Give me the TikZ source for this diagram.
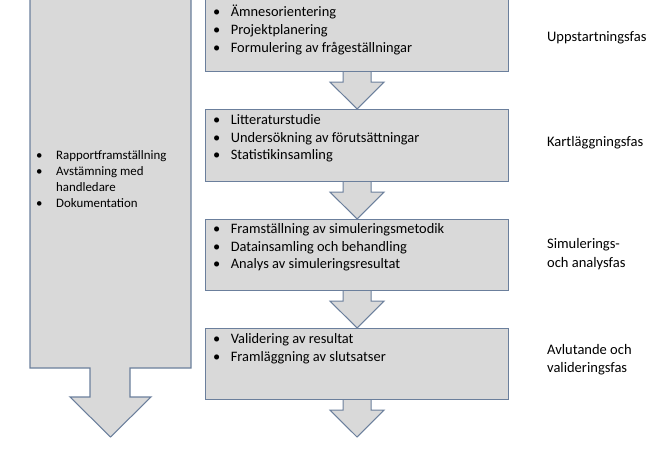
\documentclass[tikz,border=0pt]{standalone}
\usepackage{fontspec}
\setmainfont{Carlito}
\usepackage{xcolor}
\definecolor{boxfill}{HTML}{D9D9D9}
\definecolor{boxline}{HTML}{6B7F9C}
\newcommand{\bl}{\makebox[15pt][l]{\textbullet}}
\newcommand{\bls}{\makebox[17pt][l]{\textbullet}}
\tikzset{
  phase/.style={draw=boxline, fill=boxfill, line width=0.9pt, rectangle, anchor=north west, inner sep=0pt},
  items/.style={anchor=north west, align=left, inner sep=0pt, font=\fontsize{12.3}{15.2}\selectfont},
  phaselabel/.style={anchor=west, align=left, font=\fontsize{12.4}{15.6}\selectfont},
  chev/.style={draw=boxline, fill=boxfill, line width=0.9pt}
}
\newcommand{\downarrowfrom}[2]{%
  \draw[chev] ($(#1.south)+(-14,0)$) -- ++(0,10) -- ++(-13,0) -- ($(#2.north)+(0,0)$)
    -- ($(#1.south)+(27,10)$) -- ++(-13,0) -- ++(0,-10);}
\usetikzlibrary{calc}
\begin{document}
\begin{tikzpicture}[x=0.03cm, y=-0.03cm]
    \useasboundingbox (0,0) rectangle (662,450);
    % Left arrow
    \draw[chev] (30,-5) -- (191,-5) -- (191,368) -- (130,368) -- (130,397) -- (151,397)
      -- (110.5,437) -- (70,397) -- (90,397) -- (90,368) -- (30,368) -- cycle;
    \node[items, font=\fontsize{11}{13.8}\selectfont] (side) at (36,150)
      {\bls Rapportframställning\\\bls Avstämning med\\\makebox[17pt]{}handledare\\\bls Dokumentation};
    % Phase boxes
    \node[phase, minimum width=303*0.03cm, minimum height=76*0.03cm] (p1) at (205,-5) {};
    \node[phase, minimum width=303*0.03cm, minimum height=72*0.03cm] (p2) at (205,109) {};
    \node[phase, minimum width=303*0.03cm, minimum height=71*0.03cm] (p3) at (205,219) {};
    \node[phase, minimum width=303*0.03cm, minimum height=71*0.03cm] (p4) at (205,328) {};
    \coordinate (end) at (357,437);
    % Arrows
    \downarrowfrom{p1}{p2}
    \downarrowfrom{p2}{p3}
    \downarrowfrom{p3}{p4}
    \downarrowfrom{p4}{end}
    % Items
    \node[items] (t1) at (213,5) {\bl Ämnesorientering\\\bl Projektplanering\\\bl Formulering av frågeställningar};
    \node[items] (t2) at (213,114) {\bl Litteraturstudie\\\bl Undersökning av förutsättningar\\\bl Statistikinsamling};
    \node[items] (t3) at (213,223) {\bl Framställning av simuleringsmetodik\\\bl Datainsamling och behandling\\\bl Analys av simuleringsresultat};
    \node[items] (t4) at (213,333) {\bl Validering av resultat\\\bl Framläggning av slutsatser};
    % Labels
    \node[phaselabel] (l1) at (543,38) {Uppstartningsfas};
    \node[phaselabel] (l2) at (543,143) {Kartläggningsfas};
    \node[phaselabel] (l3) at (543,254) {Simulerings-\\och analysfas};
    \node[phaselabel] (l4) at (543,360) {Avlutande och\\valideringsfas};
\end{tikzpicture}
\end{document}
